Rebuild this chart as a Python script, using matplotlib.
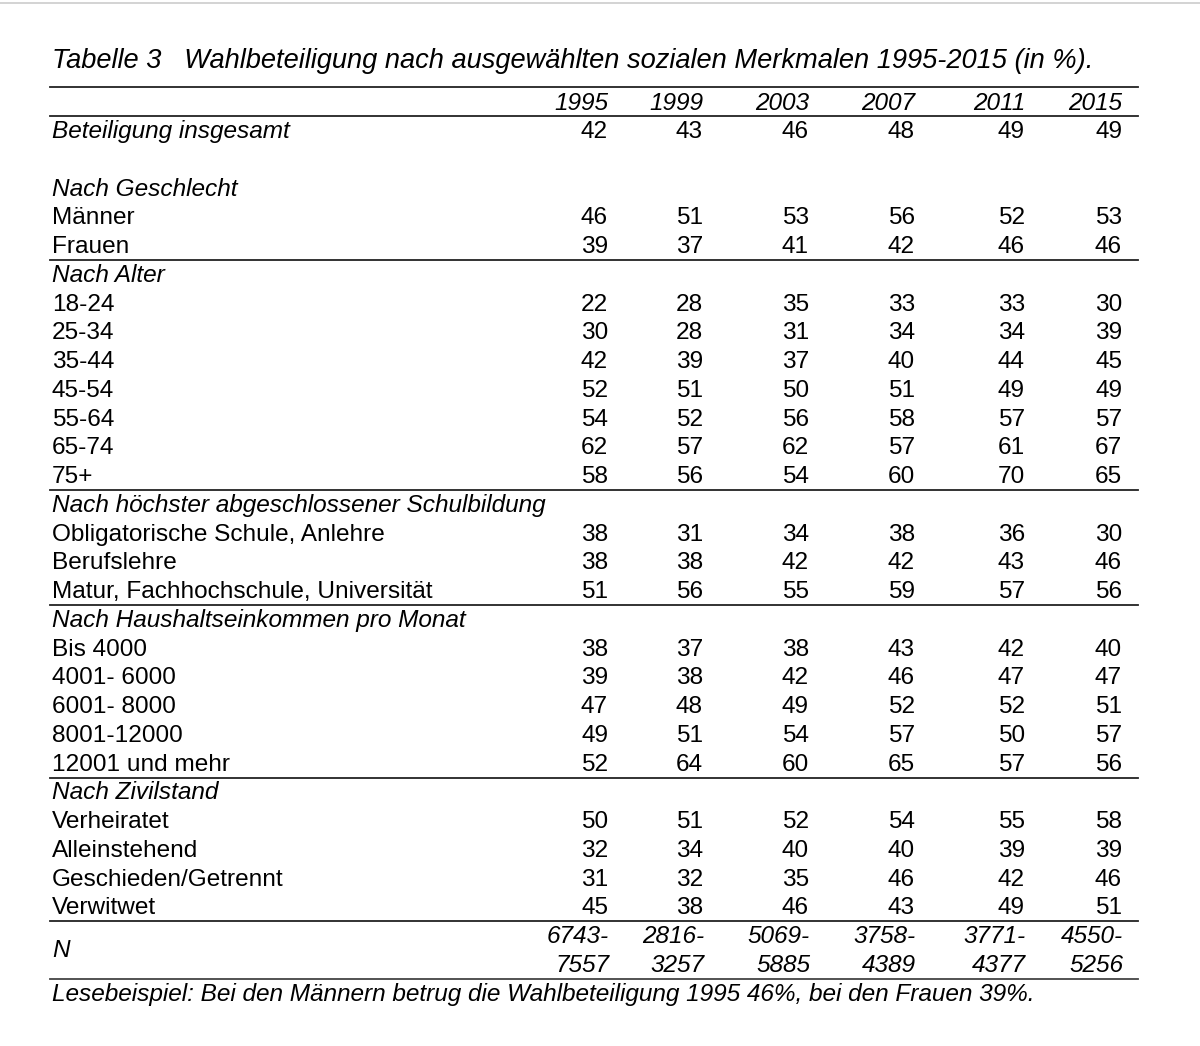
import matplotlib.pyplot as plt

plt.rcParams['font.family'] = ['Liberation Sans', 'DejaVu Sans']

title = "Tabelle 3   Wahlbeteiligung nach ausgewählten sozialen Merkmalen 1995-2015 (in %)."
note = "Lesebeispiel: Bei den Männern betrug die Wahlbeteiligung 1995 46%, bei den Frauen 39%."

years = ["1995", "1999", "2003", "2007", "2011", "2015"]

row_labels = [
    "Beteiligung insgesamt", "",
    "Nach Geschlecht", "Männer", "Frauen",
    "Nach Alter", "18-24", "25-34", "35-44", "45-54", "55-64", "65-74", "75+",
    "Nach höchster abgeschlossener Schulbildung",
    "Obligatorische Schule, Anlehre", "Berufslehre", "Matur, Fachhochschule, Universität",
    "Nach Haushaltseinkommen pro Monat",
    "Bis 4000", "4001- 6000", "6001- 8000", "8001-12000", "12001 und mehr",
    "Nach Zivilstand", "Verheiratet", "Alleinstehend", "Geschieden/Getrennt", "Verwitwet",
]

_ = None
v1995 = [42, _, _, 46, 39, _, 22, 30, 42, 52, 54, 62, 58, _, 38, 38, 51, _, 38, 39, 47, 49, 52, _, 50, 32, 31, 45]
v1999 = [43, _, _, 51, 37, _, 28, 28, 39, 51, 52, 57, 56, _, 31, 38, 56, _, 37, 38, 48, 51, 64, _, 51, 34, 32, 38]
v2003 = [46, _, _, 53, 41, _, 35, 31, 37, 50, 56, 62, 54, _, 34, 42, 55, _, 38, 42, 49, 54, 60, _, 52, 40, 35, 46]
v2007 = [48, _, _, 56, 42, _, 33, 34, 40, 51, 58, 57, 60, _, 38, 42, 59, _, 43, 46, 52, 57, 65, _, 54, 40, 46, 43]
v2011 = [49, _, _, 52, 46, _, 33, 34, 44, 49, 57, 61, 70, _, 36, 43, 57, _, 42, 47, 52, 50, 57, _, 55, 39, 42, 49]
v2015 = [49, _, _, 53, 46, _, 30, 39, 45, 49, 57, 67, 65, _, 30, 46, 56, _, 40, 47, 51, 57, 56, _, 58, 39, 46, 51]
columns = [v1995, v1999, v2003, v2007, v2011, v2015]

n_low = ["6743-", "2816-", "5069-", "3758-", "3771-", "4550-"]
n_high = ["7557", "3257", "5885", "4389", "4377", "5256"]

# rows after which a rule is drawn
rule_after = ["Frauen", "75+", "Matur, Fachhochschule, Universität", "12001 und mehr", "Verwitwet"]

# layout (x in pixels, y in row units)
col_right = [608, 703, 809, 915, 1025, 1122]
x_left = 52
x0, x1 = 50, 1138
fs = 17.6
base = 0.21  # baseline offset from row centre
gap = 0.46   # rule offset below a row

fig = plt.figure(figsize=(12, 10.46), dpi=100)
ax = fig.add_axes([0, 0, 1, 1])
ax.set_xlim(0, 1200)
ax.set_ylim(31.791, -4.591)
ax.axis('off')

# faint top border
ax.axhline(-4.49, color='#cccccc', lw=1.2)

ax.text(x_left, -2.226, title, fontsize=19.6, style='italic', va='baseline', ha='left')

ax.plot([x0, x1], [-1.565, -1.565], color='#222222', lw=1.3)
for yr, xr in zip(years, col_right):
    ax.text(xr, -0.78, yr, fontsize=fs, style='italic', ha='right', va='baseline')
ax.plot([x0, x1], [-0.557, -0.557], color='#222222', lw=1.3)

for k, lab in enumerate(row_labels):
    italic = lab.startswith("Nach ") or k == 0
    ax.text(x_left, k + base, lab, fontsize=fs, style='italic' if italic else 'normal',
            ha='left', va='baseline')
    for col, xr in zip(columns, col_right):
        if col[k] is not None:
            ax.text(xr, k + base, str(col[k]), fontsize=fs, ha='right', va='baseline')
    if lab in rule_after:
        ax.plot([x0, x1], [k + gap, k + gap], color='#222222', lw=1.3)

kn = len(row_labels)
ax.text(x_left, kn + 0.5 + base, "N", fontsize=fs, style='italic', ha='left', va='baseline')
for lo, hi, xr in zip(n_low, n_high, col_right):
    ax.text(xr + 1, kn + base, lo, fontsize=fs, style='italic', ha='right', va='baseline')
    ax.text(xr + 1, kn + 1 + base, hi, fontsize=fs, style='italic', ha='right', va='baseline')
ax.plot([x0, x1], [kn + 1 + gap, kn + 1 + gap], color='#444444', lw=1.3)

ax.text(x_left, kn + 2 + base, note, fontsize=fs, style='italic', ha='left', va='baseline')

fig.savefig('out.png', dpi=100)
